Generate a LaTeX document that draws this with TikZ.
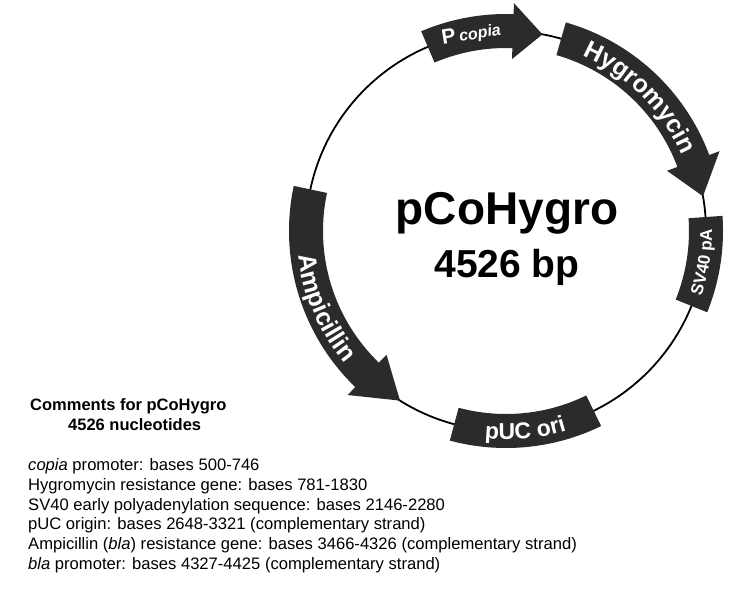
\documentclass[tikz,border=0pt]{standalone}
\usepackage{fontspec}
\setmainfont{Liberation Sans}
\usetikzlibrary{decorations.text}
\definecolor{band}{HTML}{2B2B2B}
\newcommand\lfa{\fontsize{25}{25}\selectfont\bfseries\color{white}}
\newcommand\lfc{\fontsize{23}{23}\selectfont\bfseries\color{white}}
\newcommand\lfb{\fontsize{17}{17}\selectfont\bfseries\color{white}}
\begin{document}
\begin{tikzpicture}[x=1pt,y=1pt,
  bandfill/.style={fill=band},
  labelpath/.style={decorate,decoration={text along path,text align=center,text={#1}}},
  cmt/.style={anchor=base west,inner sep=0pt,font=\fontsize{16.6}{16.6}\selectfont}]
\useasboundingbox (0,0) rectangle (753,-597);
\coordinate (c) at (506,-231);
\begin{scope}[shift={(c)}]
\draw[line width=1.8pt] (0,0) circle[radius=200pt];
% P copia arrow (clockwise)
\fill[bandfill] (113:217pt) arc[start angle=113,end angle=88,radius=217pt] -- (88:228pt) -- (79.5:200pt) -- (88:172pt) -- (88:183pt) arc[start angle=88,end angle=113,radius=183pt] -- cycle;
% Hygromycin arrow
\fill[bandfill] (74:217pt) arc[start angle=74,end angle=20.5,radius=217pt] -- (20.5:228pt) -- (10:200pt) -- (20.5:172pt) -- (20.5:183pt) arc[start angle=20.5,end angle=74,radius=183pt] -- cycle;
% SV40 pA box
\fill[bandfill] (4:217pt) arc[start angle=4,end angle=-22,radius=217pt] -- (-22:183pt) arc[start angle=-22,end angle=4,radius=183pt] -- cycle;
% pUC ori box
\fill[bandfill] (-64:217pt) arc[start angle=-64,end angle=-105,radius=217pt] -- (-105:183pt) arc[start angle=-105,end angle=-64,radius=183pt] -- cycle;
% Ampicillin arrow (counterclockwise)
\fill[bandfill] (168:217pt) arc[start angle=168,end angle=226,radius=217pt] -- (226:228pt) -- (238:200pt) -- (226:172pt) -- (226:183pt) arc[start angle=226,end angle=168,radius=183pt] -- cycle;
% labels
\node[rotate=9.5,inner sep=0pt] (pcop) at (100:200pt) {\fontsize{21}{21}\selectfont\bfseries\color{white}P\,\fontsize{16}{16}\selectfont\itshape copia};
\path[labelpath={|\lfa|Hygromycin}] (80:191.5pt) arc[start angle=80,end angle=10,radius=191.5pt];
\path[labelpath={|\lfa|Ampicillin}] (168:209pt) arc[start angle=168,end angle=238,radius=209pt];
\path[labelpath={|\lfb|SV40 pA}] (-40:206pt) arc[start angle=-40,end angle=22,radius=206pt];
\path[labelpath={|\lfc|pUC ori}] (-120:208.5pt) arc[start angle=-120,end angle=-49,radius=208.5pt];
\end{scope}
\node[font=\fontsize{46}{46}\selectfont\bfseries] (name) at (507,-213) {pCoHygro};
\node[font=\fontsize{39}{39}\selectfont\bfseries] (size) at (507,-267) {4526 bp};
\node[cmt,font=\fontsize{16.5}{16.5}\selectfont\bfseries] (h1) at (30,-410) {Comments for pCoHygro};
\node[cmt,font=\fontsize{16.5}{16.5}\selectfont\bfseries] (h2) at (68,-430) {4526 nucleotides};
\node[cmt] (l1) at (28,-470) {\textit{copia} promoter: bases 500-746};
\node[cmt] (l2) at (28,-490) {Hygromycin resistance gene: bases 781-1830};
\node[cmt] (l3) at (28,-510) {SV40 early polyadenylation sequence: bases 2146-2280};
\node[cmt] (l4) at (28,-529) {pUC origin: bases 2648-3321 (complementary strand)};
\node[cmt] (l5) at (28,-549) {Ampicillin (\textit{bla}) resistance gene: bases 3466-4326 (complementary strand)};
\node[cmt] (l6) at (28,-569) {\textit{bla} promoter: bases 4327-4425 (complementary strand)};
\end{tikzpicture}
\end{document}
